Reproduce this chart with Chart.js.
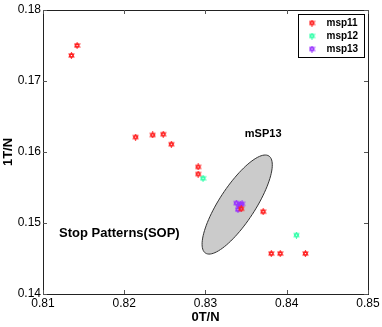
<!DOCTYPE html>
<html>
<head>
<meta charset="utf-8">
<script src="https://cdn.jsdelivr.net/npm/chart.js@4.4.0/dist/chart.umd.min.js"></script>
<style>
  html, body { margin: 0; padding: 0; background: #fff; }
  #wrap { width: 382px; height: 327px; }
</style>
</head>
<body>
<div id="wrap"><canvas id="c" width="382" height="327"></canvas></div>
<script>
// series values
const msp11X = [0.8135, 0.8142, 0.8214, 0.8235, 0.8248, 0.8258, 0.8291, 0.8291, 0.8344, 0.8371, 0.8381, 0.8392, 0.8423];
const msp11Y = [0.1736, 0.1750, 0.1621, 0.1624, 0.1625, 0.1611, 0.1579, 0.1569, 0.1520, 0.1516, 0.1457, 0.1457, 0.1457];
const msp12X = [0.8297, 0.8412];
const msp12Y = [0.1563, 0.1483];
const msp13X = [0.8338, 0.8345, 0.8342, 0.8340, 0.8343];
const msp13Y = [0.1528, 0.1527, 0.1524, 0.1519, 0.1526];

const seriesNames = ['msp11', 'msp12', 'msp13'];
const seriesColors = ['#ff2020', '#33ffaa', '#9933ff'];

const xTicks = [0.81, 0.82, 0.83, 0.84, 0.85];
const yTicks = [0.14, 0.15, 0.16, 0.17, 0.18];

// ellipse: centre and two semi-axis vectors, in data units
const ellCenter = [0.8339, 0.1526];
const ellMajor = [0.0039, 0.00684];
const ellMinor = [0.00186, -0.00138];

const notes = [
    { text: 'mSP13', x: 0.8371, y: 0.1625, size: 11 },
    { text: 'Stop Patterns(SOP)', x: 0.8194, y: 0.1486, size: 13 }
];

function toPoints(xs, ys) {
    return xs.map((x, i) => ({ x: x, y: ys[i] }));
}

// small hexagram like the matlab 'h' marker
function makeMarker(color) {
    const cv = document.createElement('canvas');
    cv.width = 7; cv.height = 7;
    const g = cv.getContext('2d');
    g.strokeStyle = color;
    g.lineWidth = 1.2;
    const cx = 3.5, cy = 3.5, r = 2.6;
    for (let t = 0; t < 2; t++) {
        g.beginPath();
        for (let k = 0; k < 3; k++) {
            const a = -Math.PI / 2 + t * Math.PI + k * 2 * Math.PI / 3;
            const px = cx + r * Math.cos(a), py = cy + r * Math.sin(a);
            if (k === 0) g.moveTo(px, py); else g.lineTo(px, py);
        }
        g.closePath();
        g.stroke();
    }
    return cv;
}

const markers = seriesColors.map(makeMarker);

const FONT = 'Liberation Sans, Arial, Helvetica, sans-serif';

const extras = {
    id: 'extras',
    beforeDatasetsDraw(chart) {
        const { ctx, scales: { x, y } } = chart;
        // ellipse
        ctx.save();
        ctx.beginPath();
        for (let i = 0; i <= 100; i++) {
            const t = i / 100 * Math.PI * 2;
            const dx = ellCenter[0] + ellMajor[0] * Math.cos(t) + ellMinor[0] * Math.sin(t);
            const dy = ellCenter[1] + ellMajor[1] * Math.cos(t) + ellMinor[1] * Math.sin(t);
            const px = x.getPixelForValue(dx), py = y.getPixelForValue(dy);
            if (i === 0) ctx.moveTo(px, py); else ctx.lineTo(px, py);
        }
        ctx.closePath();
        ctx.fillStyle = '#cbcbcb';
        ctx.fill();
        ctx.strokeStyle = '#333';
        ctx.lineWidth = 1;
        ctx.stroke();

        // annotations
        ctx.fillStyle = '#000';
        ctx.textAlign = 'center';
        ctx.textBaseline = 'middle';
        notes.forEach(n => {
            ctx.font = 'bold ' + n.size + 'px ' + FONT;
            ctx.fillText(n.text, x.getPixelForValue(n.x), y.getPixelForValue(n.y));
        });
        ctx.restore();
    },
    afterDraw(chart) {
        const { ctx, chartArea: a, scales: { x, y } } = chart;
        ctx.save();
        ctx.lineWidth = 1;
        ctx.strokeStyle = '#222';
        ctx.strokeRect(Math.round(a.left) + 0.5, Math.round(a.top) + 0.5,
            Math.round(a.right - a.left), Math.round(a.bottom - a.top));
        // inward ticks on all four sides
        ctx.strokeStyle = '#555';
        xTicks.forEach(v => {
            const px = Math.round(x.getPixelForValue(v)) + 0.5;
            ctx.beginPath();
            ctx.moveTo(px, a.bottom); ctx.lineTo(px, a.bottom - 4);
            ctx.moveTo(px, a.top); ctx.lineTo(px, a.top + 4);
            ctx.stroke();
        });
        yTicks.forEach(v => {
            const py = Math.round(y.getPixelForValue(v)) + 0.5;
            ctx.beginPath();
            ctx.moveTo(a.left, py); ctx.lineTo(a.left + 4, py);
            ctx.moveTo(a.right, py); ctx.lineTo(a.right - 4, py);
            ctx.stroke();
        });

        // legend box
        const bx = 298.5, by = 14.5, bw = 66, bh = 43;
        ctx.fillStyle = '#fff';
        ctx.fillRect(bx, by, bw, bh);
        ctx.strokeStyle = '#000';
        ctx.strokeRect(bx, by, bw, bh);
        ctx.font = 'bold 10px ' + FONT;
        ctx.textAlign = 'left';
        ctx.textBaseline = 'middle';
        seriesNames.forEach((name, i) => {
            const ry = by + 8.5 + i * 13;
            ctx.drawImage(markers[i], bx + 10, ry - 3.5);
            ctx.fillStyle = '#000';
            ctx.fillText(name, bx + 28, ry);
        });
        ctx.restore();
    }
};

new Chart(document.getElementById('c'), {
    type: 'scatter',
    data: {
        datasets: [
            { label: seriesNames[0], data: toPoints(msp11X, msp11Y), pointStyle: markers[0] },
            { label: seriesNames[1], data: toPoints(msp12X, msp12Y), pointStyle: markers[1] },
            { label: seriesNames[2], data: toPoints(msp13X, msp13Y), pointStyle: markers[2] }
        ]
    },
    options: {
        responsive: false,
        animation: false,
        layout: { padding: { top: 10, right: 14, left: 0, bottom: 0 } },
        plugins: {
            legend: { display: false },
            tooltip: { enabled: false }
        },
        scales: {
            x: {
                type: 'linear',
                min: 0.81, max: 0.85,
                afterBuildTicks: s => { s.ticks = xTicks.map(v => ({ value: v })); },
                afterFit: s => { s.height = 33; },
                grid: { display: false, drawTicks: false },
                border: { display: false },
                ticks: {
                    padding: 2,
                    color: '#000',
                    font: { family: FONT, size: 12 },
                    callback: v => v.toFixed(2)
                },
                title: {
                    display: true,
                    text: '0T/N',
                    color: '#000',
                    padding: { top: 0, bottom: 2 },
                    font: { family: FONT, size: 13, weight: 'bold' }
                }
            },
            y: {
                type: 'linear',
                min: 0.14, max: 0.18,
                afterBuildTicks: s => { s.ticks = yTicks.map(v => ({ value: v })); },
                afterFit: s => { s.width = 43; },
                grid: { display: false, drawTicks: false },
                border: { display: false },
                ticks: {
                    padding: 2,
                    color: '#000',
                    font: { family: FONT, size: 12 },
                    callback: v => v.toFixed(2)
                },
                title: {
                    display: true,
                    text: '1T/N',
                    color: '#000',
                    padding: { top: 1, bottom: 0 },
                    font: { family: FONT, size: 13, weight: 'bold' }
                }
            }
        }
    },
    plugins: [extras]
});
</script>
</body>
</html>
